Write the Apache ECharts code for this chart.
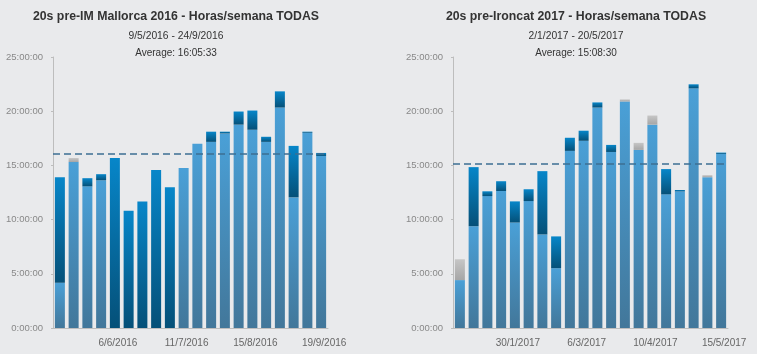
<!DOCTYPE html>
<html>
<head>
<meta charset="utf-8">
<title>Horas/semana</title>
<script src="https://cdn.jsdelivr.net/npm/echarts@6/dist/echarts.min.js"></script>
<style>
  html, body { margin: 0; padding: 0; background: #e9eaec; }
  #chart { width: 757px; height: 354px; }
</style>
</head>
<body>
<div id="chart"></div>
<script>
// --- data (hours per week) ---
var weeks2016 = ['9/5/2016','16/5/2016','23/5/2016','30/5/2016','6/6/2016','13/6/2016','20/6/2016','27/6/2016','4/7/2016','11/7/2016',
                 '18/7/2016','25/7/2016','1/8/2016','8/8/2016','15/8/2016','22/8/2016','29/8/2016','5/9/2016','12/9/2016','19/9/2016'];
var light2016 = [4.18, 15.31, 13.07, 13.63, 0, 0, 0, 0, 0, 14.75, 16.99, 17.17, 17.95, 18.76, 18.29, 17.17, 20.34, 12.05, 18.01, 15.87];
var dark2016  = [9.73, 0, 0.75, 0.56, 15.68, 10.82, 11.68, 14.57, 12.98, 0, 0, 0.94, 0.16, 1.21, 1.77, 0.47, 1.49, 4.75, 0.10, 0.28];
var gray2016  = [0, 0.37, 0, 0, 0, 0, 0, 0, 0, 0, 0, 0, 0, 0, 0, 0, 0, 0, 0, 0];
var avg2016 = 16 + 5/60 + 33/3600;

var weeks2017 = ['2/1/2017','9/1/2017','16/1/2017','23/1/2017','30/1/2017','6/2/2017','13/2/2017','20/2/2017','27/2/2017','6/3/2017',
                 '13/3/2017','20/3/2017','27/3/2017','3/4/2017','10/4/2017','17/4/2017','24/4/2017','1/5/2017','8/5/2017','15/5/2017'];
var light2017 = [4.42, 9.39, 12.17, 12.64, 9.73, 11.71, 8.63, 5.52, 16.34, 17.27, 20.34, 16.24, 20.90, 16.43, 18.76, 12.33, 12.61, 22.11, 13.91, 16.06];
var dark2017  = [0, 5.45, 0.44, 0.90, 1.95, 1.09, 5.84, 2.93, 1.21, 0.93, 0.47, 0.65, 0, 0, 0, 2.33, 0.12, 0.37, 0, 0.12];
var gray2017  = [1.92, 0, 0, 0, 0, 0, 0, 0, 0, 0, 0, 0, 0.19, 0.65, 0.84, 0, 0, 0, 0.19, 0];
var avg2017 = 15 + 8/60 + 30/3600;

var yTicks = [0, 5, 10, 15, 20, 25];

function hms(h) {
    var s = Math.round(h * 3600);
    var hh = Math.floor(s / 3600), mm = Math.floor((s % 3600) / 60), ss = s % 60;
    return hh + ':' + (mm < 10 ? '0' : '') + mm + ':' + (ss < 10 ? '0' : '') + ss;
}

function grad(top, bottom) {
    return new echarts.graphic.LinearGradient(0, 0, 0, 1, [
        {offset: 0, color: top}, {offset: 1, color: bottom}
    ]);
}

var font = 'Helvetica, "Liberation Sans", Arial, sans-serif';
var lightCol = grad('#4aa0d7', '#42779a');
var darkCol  = grad('#0786c9', '#055078');
var grayCol  = grad('#c6c6c6', '#a6a6a6');

function makeTitles(cx, main, range, avg) {
    return [
        {text: main, left: cx, top: 6, textAlign: 'center',
         textStyle: {fontSize: 12.3, fontWeight: 'bold', color: '#333', fontFamily: font}},
        {text: range, left: cx, top: 26, textAlign: 'center',
         textStyle: {fontSize: 10.3, fontWeight: 'normal', color: '#333', fontFamily: font}},
        {text: 'Average: ' + hms(avg), left: cx, top: 43, textAlign: 'center',
         textStyle: {fontSize: 10, fontWeight: 'normal', color: '#333', fontFamily: font}}
    ];
}

function makeX(idx, data) {
    return {
        type: 'category', gridIndex: idx, data: data,
        axisLine: {lineStyle: {color: '#bdbdbd', width: 1}},
        axisTick: {show: false},
        axisLabel: {
            color: '#666', fontSize: 10, fontFamily: font, margin: 10, padding: [0, 0, 0, 6],
            interval: function (i) { return i % 5 === 4; }
        }
    };
}

function makeY(idx) {
    return {
        type: 'value', gridIndex: idx, min: yTicks[0], max: yTicks[yTicks.length - 1], interval: 5,
        axisLine: {show: true, lineStyle: {color: '#bdbdbd', width: 1}},
        axisTick: {show: true, length: 2, lineStyle: {color: '#bdbdbd'}},
        splitLine: {show: false},
        axisLabel: {color: '#888', fontSize: 9.5, fontFamily: font, margin: 10, formatter: hms}
    };
}

function makeSeries(idx, light, dark, gray, avg) {
    var stack = 'w' + idx;
    return [
        {type: 'bar', xAxisIndex: idx, yAxisIndex: idx, stack: stack, data: light, barWidth: 10,
         itemStyle: {color: lightCol}, silent: true,
         markLine: {
             silent: true, symbol: 'none', label: {show: false},
             lineStyle: {color: '#3c6f92', type: [7, 4], width: 1.5},
             data: [{yAxis: avg}]
         }},
        {type: 'bar', xAxisIndex: idx, yAxisIndex: idx, stack: stack, data: dark, barWidth: 10,
         itemStyle: {color: darkCol}, silent: true},
        {type: 'bar', xAxisIndex: idx, yAxisIndex: idx, stack: stack, data: gray, barWidth: 10,
         itemStyle: {color: grayCol}, silent: true}
    ];
}

var option = {
    backgroundColor: '#e9eaec',
    animation: false,
    title: makeTitles(171, '20s pre-IM Mallorca 2016 - Horas/semana TODAS', '9/5/2016 - 24/9/2016', avg2016)
        .concat(makeTitles(571, '20s pre-Ironcat 2017 - Horas/semana TODAS', '2/1/2017 - 20/5/2017', avg2017)),
    grid: [
        {left: 53, top: 57, width: 275, height: 271},
        {left: 453, top: 57, width: 275, height: 271}
    ],
    xAxis: [makeX(0, weeks2016), makeX(1, weeks2017)],
    yAxis: [makeY(0), makeY(1)],
    series: makeSeries(0, light2016, dark2016, gray2016, avg2016)
        .concat(makeSeries(1, light2017, dark2017, gray2017, avg2017))
};

var myChart = echarts.init(document.getElementById('chart'));
myChart.setOption(option);
</script>
</body>
</html>
